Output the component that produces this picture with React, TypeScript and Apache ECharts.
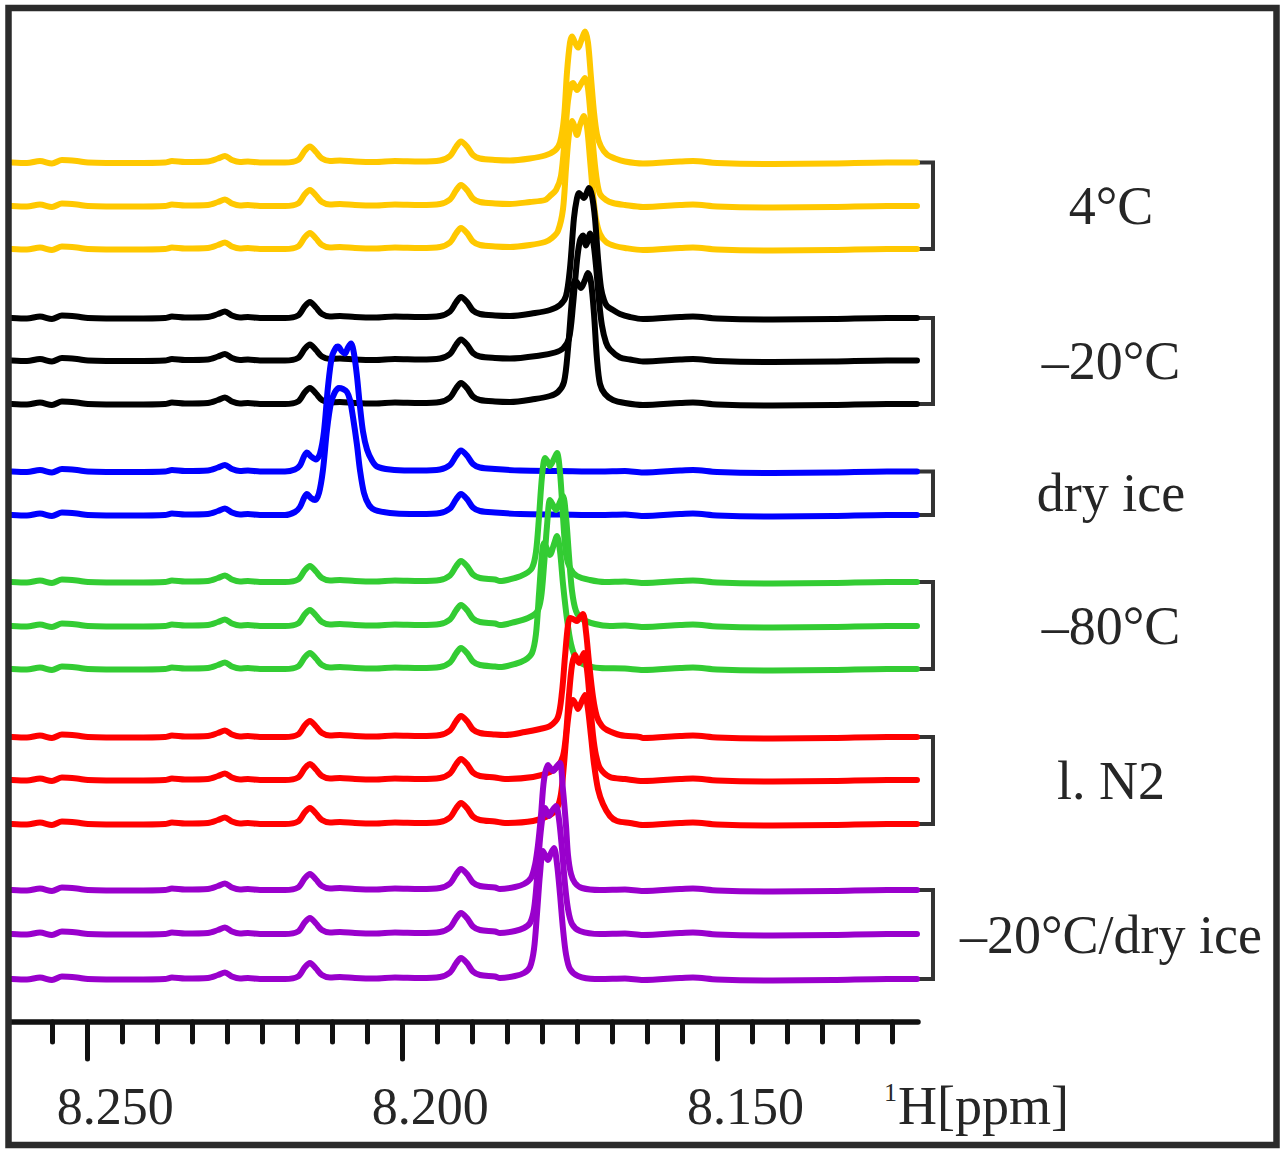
import * as echarts from "echarts";
import { useEffect, useRef } from "react";

type Pt = [number, number];

// tick positions on the 1H axis (ppm)
const ppmMajorTicks = [8.25, 8.2, 8.15];
const ppmMinorTicks = [
  8.25556, 8.24444, 8.23889, 8.23333, 8.22778, 8.22222, 8.21667, 8.21111, 8.20556,
  8.19444, 8.18889, 8.18333, 8.17778, 8.17222, 8.16667, 8.16111, 8.15556,
  8.14444, 8.13889, 8.13333, 8.12778, 8.12222,
];

// features shared by every trace: [ppm, height above that trace's baseline]
const baselineLeft: Pt[] = [
  [8.26195, 0], [8.25957, -0.5], [8.2575, 1.5], [8.2556, -1], [8.25401, 2.5], [8.25163, 1.5],
  [8.24989, 0], [8.24275, -0.5], [8.23767, 0], [8.23656, 1.5], [8.2345, 0.5], [8.23085, 1],
  [8.22926, 4], [8.22815, 6.5], [8.22704, 2.5], [8.22577, 0.5], [8.2245, 1], [8.22259, 0],
  [8.21863, 0], [8.21656, 2.5], [8.21545, 12], [8.21466, 16], [8.21371, 10.5], [8.21276, 4],
  [8.21149, 1.5], [8.2099, 2], [8.20752, 1], [8.20435, 0.5], [8.20117, 1.5], [8.19721, 1],
  [8.19403, 2], [8.19244, 6.5], [8.19149, 15.5], [8.1907, 21], [8.18975, 16], [8.1888, 7.5],
  [8.18768, 4], [8.1853, 2.5],
];
const baselineMid: Pt[] = [[8.18134, 1], [8.17499, 0.5], [8.16864, 0], [8.16468, 0.5]];
const baselineRight: Pt[] = [
  [8.16182, -1], [8.15595, 1], [8.15389, 1.5], [8.15008, -0.5], [8.14119, -1.5],
  [8.13167, -1], [8.1231, 0], [8.11834, 0],
];

// the large signal of each trace
const peakYellowA: Pt[] = [
  [8.18292, 2], [8.17975, 4], [8.17737, 7], [8.17578, 12], [8.17499, 20], [8.17435, 45],
  [8.17388, 90], [8.1734, 120], [8.17308, 126], [8.17261, 120], [8.17213, 115], [8.1715, 124],
  [8.17102, 131], [8.17055, 120], [8.17007, 85], [8.16959, 50], [8.16912, 28], [8.16848, 16],
  [8.16753, 8], [8.16626, 4], [8.16468, 1],
];
const peakYellowB: Pt[] = [
  [8.18292, 2], [8.17975, 4], [8.17737, 6], [8.17658, 10], [8.17562, 16], [8.17483, 30],
  [8.1742, 70], [8.17372, 105], [8.17324, 121], [8.17293, 123], [8.17229, 116], [8.17166, 122],
  [8.17102, 128], [8.17055, 118], [8.17007, 85], [8.16959, 50], [8.16912, 25], [8.16864, 12],
  [8.16769, 6], [8.16658, 3], [8.16468, 1],
];
const peakYellowC: Pt[] = [
  [8.18292, 2], [8.17975, 4], [8.17737, 7], [8.17626, 11], [8.17531, 18], [8.17451, 40],
  [8.17404, 80], [8.17356, 115], [8.17308, 128], [8.17277, 124], [8.17229, 114], [8.17182, 124],
  [8.17118, 133], [8.1707, 122], [8.17023, 90], [8.16975, 55], [8.16928, 30], [8.16864, 15],
  [8.16769, 7], [8.16626, 3], [8.16468, 1],
];
const peakBlackA: Pt[] = [
  [8.18292, 2], [8.17896, 5], [8.17658, 8], [8.17499, 13], [8.17404, 22], [8.1734, 50],
  [8.17277, 100], [8.17229, 120], [8.17197, 125], [8.1715, 122], [8.17118, 120], [8.1707, 126],
  [8.17039, 130], [8.16991, 122], [8.16944, 100], [8.16896, 60], [8.16848, 30], [8.16801, 18],
  [8.16753, 12], [8.16658, 8], [8.16547, 4], [8.16388, 1],
];
const peakBlackB: Pt[] = [
  [8.18292, 2], [8.17816, 5], [8.17578, 8], [8.17451, 12], [8.17356, 22], [8.17293, 55],
  [8.17229, 100], [8.17182, 120], [8.17134, 125], [8.17086, 115], [8.17055, 120], [8.17023, 127],
  [8.16975, 120], [8.16928, 95], [8.1688, 60], [8.16833, 35], [8.16769, 18], [8.16706, 11],
  [8.16547, 3], [8.16388, 1],
];
const peakBlackC: Pt[] = [
  [8.18292, 2], [8.17896, 5], [8.17658, 8], [8.17531, 12], [8.17435, 22], [8.17372, 55],
  [8.17308, 105], [8.17261, 124], [8.17213, 120], [8.17166, 116], [8.17102, 124], [8.17055, 131],
  [8.17007, 122], [8.16959, 90], [8.16912, 45], [8.16864, 20], [8.16785, 10], [8.16658, 4],
  [8.16468, 1],
];
const peakBlueA: Pt[] = [
  [8.21863, 0], [8.21704, 2], [8.21625, 6], [8.21561, 15], [8.21514, 19], [8.2145, 15],
  [8.21371, 12], [8.21307, 18], [8.21244, 40], [8.2118, 85], [8.21117, 115], [8.21053, 124],
  [8.21022, 125], [8.20958, 120], [8.20911, 118], [8.20863, 124], [8.20815, 128], [8.20768, 118],
  [8.2072, 95], [8.20673, 65], [8.20625, 40], [8.20561, 22], [8.20482, 11], [8.20403, 5],
  [8.20197, 2], [8.19879, 1],
];
const peakBlueB: Pt[] = [
  [8.21863, 0], [8.21704, 3], [8.21625, 8], [8.21561, 17], [8.21514, 21], [8.2145, 17],
  [8.21387, 15], [8.21323, 22], [8.2126, 45], [8.21196, 85], [8.21133, 112], [8.21069, 123],
  [8.21006, 127], [8.20942, 126], [8.20879, 123], [8.20831, 115], [8.20784, 98], [8.2072, 70],
  [8.20673, 45], [8.20609, 22], [8.2053, 10], [8.20435, 5], [8.20197, 2], [8.19879, 1],
];
const peakGreenA: Pt[] = [
  [8.18451, 1], [8.18213, 4], [8.18054, 8], [8.17943, 14], [8.1788, 30], [8.17832, 65],
  [8.17785, 105], [8.17737, 124], [8.17689, 120], [8.17658, 116], [8.17594, 123], [8.17546, 129],
  [8.17499, 110], [8.17451, 65], [8.17404, 28], [8.1734, 14], [8.17229, 6], [8.17023, 2],
  [8.16785, 0],
];
const peakGreenB: Pt[] = [
  [8.18451, 1], [8.18213, 4], [8.18007, 8], [8.17864, 14], [8.178, 28], [8.17753, 60],
  [8.17705, 100], [8.17658, 126], [8.1761, 121], [8.17562, 116], [8.17499, 124], [8.17451, 130],
  [8.17404, 110], [8.17356, 70], [8.17308, 35], [8.17245, 15], [8.1715, 7], [8.16944, 2],
  [8.16706, 0],
];
const peakGreenC: Pt[] = [
  [8.18451, 2], [8.18213, 5], [8.18054, 9], [8.17943, 16], [8.1788, 35], [8.17832, 75],
  [8.17785, 115], [8.17753, 126], [8.17705, 120], [8.17658, 114], [8.17594, 125], [8.17546, 133],
  [8.17499, 118], [8.17451, 85], [8.17388, 50], [8.17324, 25], [8.17245, 11], [8.17102, 4],
  [8.16864, 1],
];
const peakRedA: Pt[] = [
  [8.18372, 2], [8.18054, 5], [8.17816, 8], [8.17658, 11], [8.17531, 20], [8.17467, 45],
  [8.1742, 80], [8.17372, 112], [8.1734, 119], [8.17293, 118], [8.17229, 116], [8.17182, 120],
  [8.17134, 123], [8.17086, 105], [8.17039, 75], [8.16975, 40], [8.16912, 20], [8.16833, 11],
  [8.16753, 7], [8.16547, 2], [8.16229, 0],
];
const peakRedB: Pt[] = [
  [8.18372, 1], [8.17927, 3], [8.17658, 8], [8.17531, 14], [8.17451, 24], [8.17404, 45],
  [8.17356, 85], [8.17308, 115], [8.17261, 125], [8.17229, 121], [8.17197, 117], [8.1715, 123],
  [8.17118, 127], [8.1707, 110], [8.17023, 78], [8.16975, 45], [8.16928, 25], [8.16864, 12],
  [8.16706, 3], [8.16468, 1],
];
const peakRedC: Pt[] = [
  [8.18372, 1], [8.17927, 3], [8.17658, 9], [8.17546, 16], [8.17483, 30], [8.17435, 60],
  [8.17388, 95], [8.1734, 118], [8.17293, 124], [8.17245, 119], [8.17213, 115], [8.1715, 123],
  [8.17102, 129], [8.17055, 115], [8.17007, 88], [8.16959, 60], [8.16896, 35], [8.16817, 20],
  [8.16706, 8], [8.16595, 3], [8.16388, 1],
];
const peakPurpleA: Pt[] = [
  [8.18451, 1], [8.18213, 3], [8.1807, 6], [8.17959, 12], [8.17896, 25], [8.17848, 45],
  [8.178, 75], [8.17753, 110], [8.17689, 125], [8.17642, 121], [8.1761, 119], [8.17546, 124],
  [8.17499, 127], [8.17451, 100], [8.17404, 65], [8.17372, 35], [8.17324, 16], [8.17261, 7],
  [8.1715, 2], [8.16864, 0],
];
const peakPurpleB: Pt[] = [
  [8.18451, 1], [8.18213, 3], [8.1807, 6], [8.17975, 11], [8.17911, 25], [8.17864, 55],
  [8.17816, 95], [8.17769, 120], [8.17737, 126], [8.17705, 122], [8.17673, 118], [8.17626, 123],
  [8.17562, 128], [8.17515, 115], [8.17467, 85], [8.1742, 50], [8.17372, 25], [8.17308, 10],
  [8.17182, 3], [8.16864, 0],
];
const peakPurpleC: Pt[] = [
  [8.18451, 1], [8.18213, 3], [8.1807, 6], [8.17975, 12], [8.17911, 30], [8.17864, 65],
  [8.17816, 105], [8.17769, 128], [8.17721, 122], [8.17689, 119], [8.17642, 126], [8.17594, 131],
  [8.17546, 115], [8.17499, 85], [8.17451, 50], [8.17404, 25], [8.1734, 10], [8.17213, 3],
  [8.16944, 0],
];

const tracePeaks = [
  peakYellowA, peakYellowB, peakYellowC,
  peakBlackA, peakBlackB, peakBlackC,
  peakBlueA, peakBlueB,
  peakGreenA, peakGreenB, peakGreenC,
  peakRedA, peakRedB, peakRedC,
  peakPurpleA, peakPurpleB, peakPurpleC,
];
// vertical stacking offset of each trace
const traceOffsets = [859.5, 816, 773, 704, 661.5, 618, 550.5, 507, 440, 396, 353, 285, 242, 198, 132, 88, 43];
const traceGroup = [0, 0, 0, 1, 1, 1, 2, 2, 3, 3, 3, 4, 4, 4, 5, 5, 5];

const groupLabels = ["4°C", "–20°C", "dry ice", "–80°C", "l. N2", "–20°C/dry ice"];
const groupColors = ["#ffc800", "#000000", "#0000ff", "#33cc33", "#ff0000", "#9900cc"];

const SERIF = "'Liberation Serif', 'Times New Roman', serif";
const TEXT_COLOR = "#262626";

export default function App() {
  const ref = useRef<HTMLDivElement | null>(null);

  useEffect(() => {
    if (!ref.current) return;
    const chart = echarts.init(ref.current, undefined, { renderer: "svg" });

    const allBase = [...baselineLeft, ...baselineMid, ...baselineRight];
    const series = traceOffsets.map((offset, i) => {
      const peak = tracePeaks[i];
      const hi = peak[0][0];
      const lo = peak[peak.length - 1][0];
      const pts = [...allBase.filter(([p]) => p > hi || p < lo), ...peak]
        .sort((a, b) => b[0] - a[0])
        .map(([p, v]) => [p, offset + v]);
      return {
        type: "line" as const,
        data: pts,
        showSymbol: false,
        symbol: "none",
        smooth: 0.3,
        silent: true,
        lineStyle: { color: groupColors[traceGroup[i]], width: 6, cap: "round", join: "round" },
      };
    });

    const xMin = 8.11818;
    const xMax = 8.26226;
    const tickStyle = { color: "#111", width: 5, cap: "round" as const };

    chart.setOption({
      animation: false,
      backgroundColor: "#ffffff",
      grid: { left: 10, right: 369, top: 22, bottom: 133 },
      xAxis: [
        {
          type: "value",
          position: "bottom",
          inverse: true,
          min: xMin,
          max: xMax,
          axisLine: { show: true, onZero: false, lineStyle: { color: "#111", width: 5.5, cap: "round" } },
          axisTick: { show: true, customValues: ppmMajorTicks, length: 37, lineStyle: tickStyle },
          axisLabel: {
            customValues: ppmMajorTicks,
            formatter: (v: number) => v.toFixed(3),
            margin: 58,
            fontSize: 52,
            fontFamily: SERIF,
            color: TEXT_COLOR,
            padding: [0, 0, 0, 56],
          },
          splitLine: { show: false },
        },
        {
          type: "value",
          position: "bottom",
          inverse: true,
          min: xMin,
          max: xMax,
          axisLine: { show: false, onZero: false },
          axisTick: { show: true, customValues: ppmMinorTicks, length: 20, lineStyle: tickStyle },
          axisLabel: { show: false },
          splitLine: { show: false },
        },
      ],
      yAxis: { type: "value", min: 0, max: 1000, show: false },
      series,
    });

    const rightEnd = baselineRight[baselineRight.length - 1][0];
    const px = (p: number, v: number) => chart.convertToPixel({ gridIndex: 0 }, [p, v]) as number[];
    const graphics: any[] = [];
    groupLabels.forEach((label, g) => {
      const first = traceGroup.indexOf(g);
      const last = traceGroup.lastIndexOf(g);
      const top = px(rightEnd, traceOffsets[first]);
      const bot = px(rightEnd, traceOffsets[last]);
      const bx = top[0] + 16;
      graphics.push({
        type: "polyline",
        silent: true,
        shape: { points: [[top[0], top[1]], [bx, top[1]], [bx, bot[1]], [bot[0], bot[1]]] },
        style: { stroke: "#333", lineWidth: 4, fill: null },
      });
      graphics.push({
        type: "text",
        silent: true,
        x: 1111,
        y: (top[1] + bot[1]) / 2,
        style: {
          text: label,
          fontSize: 54,
          fontFamily: SERIF,
          fill: TEXT_COLOR,
          align: "center",
          verticalAlign: "middle",
          textAlign: "center",
          textVerticalAlign: "middle",
        },
      });
    });
    graphics.push({
      type: "text",
      silent: true,
      x: 884,
      y: 1106,
      style: {
        text: "{sup|1}{main|H[ppm]}",
        fill: TEXT_COLOR,
        align: "left",
        verticalAlign: "middle",
        textAlign: "left",
        textVerticalAlign: "middle",
        rich: {
          sup: { fontSize: 26, lineHeight: 54, fontFamily: SERIF, fill: TEXT_COLOR, verticalAlign: "top", padding: [0, 1, 0, 0] },
          main: { fontSize: 54, lineHeight: 54, fontFamily: SERIF, fill: TEXT_COLOR },
        },
      },
    });
    graphics.push({
      type: "rect",
      silent: true,
      z: 100,
      shape: { x: 8.5, y: 8, width: 1268, height: 1137 },
      style: { fill: null, stroke: "#2b2b2b", lineWidth: 6.5 },
    });
    chart.setOption({ graphic: graphics });

    return () => {
      chart.dispose();
    };
  }, []);

  return (
    <div
      ref={ref}
      style={{ position: "absolute", left: 0, top: 0, width: 1287, height: 1155, background: "#fff" }}
    />
  );
}
